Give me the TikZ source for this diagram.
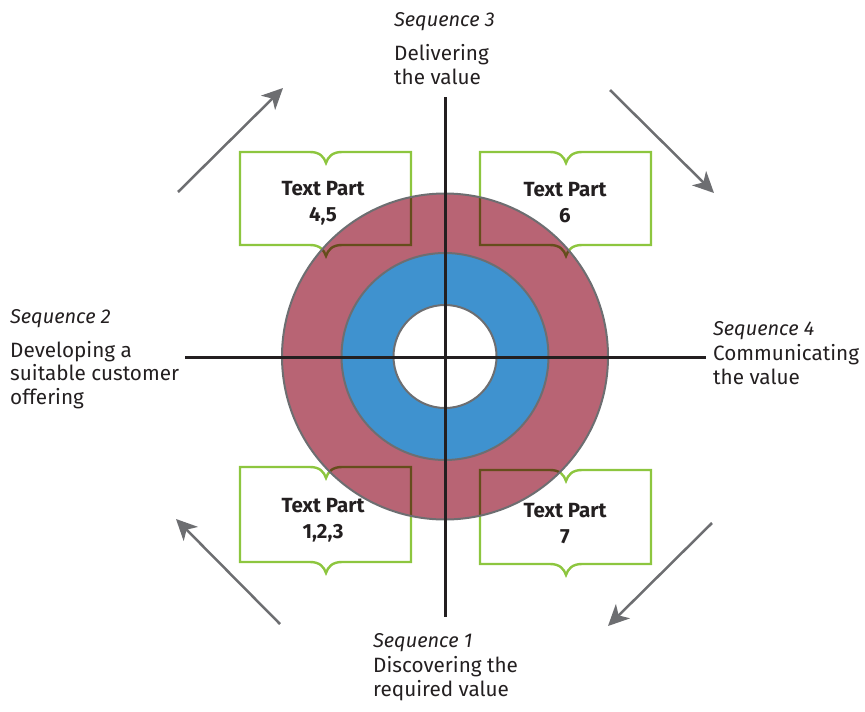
\documentclass[tikz,border=0pt]{standalone}
\usepackage{fontspec}
\setmainfont{Fira Sans}
\usetikzlibrary{arrows.meta}
\definecolor{ringred}{HTML}{B86474}
\definecolor{ringblue}{HTML}{3F92CF}
\definecolor{boxgreen}{HTML}{8DC63F}
\definecolor{ringgrey}{HTML}{6D6E71}
\definecolor{axisblack}{HTML}{231F20}
\newcommand\bookbox[3]{%
  \draw[bookline] (#1,#2) -- (#1+70,#2)
    .. controls (#1+80,#2) and (#1+84,#2+5) .. (#1+86,#2+11)
    .. controls (#1+88,#2+5) and (#1+92,#2) .. (#1+102,#2)
    -- (#1+171,#2) -- (#1+171,#3) -- (#1+102,#3)
    .. controls (#1+92,#3) and (#1+88,#3+5) .. (#1+86,#3+11)
    .. controls (#1+84,#3+5) and (#1+80,#3) .. (#1+70,#3)
    -- (#1,#3) -- cycle;}
\begin{document}
\begin{tikzpicture}[x=1pt,y=-1pt,
  bookline/.style={draw=boxgreen,line width=2.4pt,fill=white,line join=miter},
  boxtext/.style={font=\bfseries\fontsize{20.5}{26}\selectfont,align=center,text=axisblack,inner sep=0pt},
  seqhead/.style={font=\itshape\fontsize{20}{24}\selectfont,anchor=base west,inner sep=0pt,text=axisblack},
  seqtext/.style={font=\fontsize{20.7}{23.5}\selectfont,anchor=base west,inner sep=0pt,align=left,text=axisblack},
  ring/.style={circle,draw=ringgrey,line width=2pt,inner sep=0pt},
  axis/.style={draw=axisblack,line width=3pt},
  flow/.style={draw=ringgrey,line width=2.5pt,-{Stealth[length=21pt,width=20pt,inset=6pt]}}]
\useasboundingbox (0,0) rectangle (865,712);
% book boxes
\bookbox{240}{152}{245}
\bookbox{480}{152}{245}
\bookbox{240}{467}{562}
\bookbox{480}{470}{564}
% rings
\fill[ringred,even odd rule,blend mode=multiply] (445,356.5) circle (163) circle (103.5);
\fill[ringblue,even odd rule] (445,356.5) circle (103.5) circle (51.5);
\node[ring,minimum size=326pt] (outer) at (445,356.5) {};
\node[ring,minimum size=207pt] (middle) at (445,356.5) {};
\node[ring,minimum size=103pt] (inner) at (445,356.5) {};
% axes
\coordinate (vtop) at (445,97);
\coordinate (vbot) at (445,617);
\coordinate (hleft) at (185,357);
\coordinate (hright) at (706,357);
\draw[axis] (vtop) -- (vbot);
\draw[axis] (hleft) -- (hright);
% box texts
\node[boxtext] (tp45) at (323,203) {Text Part\\4,5};
\node[boxtext] (tp6) at (565,203) {Text Part\\6};
\node[boxtext] (tp123) at (323,520) {Text Part\\1,2,3};
\node[boxtext] (tp7) at (565,524) {Text Part\\7};
% sequence labels
\node[seqhead] (s3) at (394,26) {Sequence 3};
\node[seqtext] (d3) at (394,84) {Delivering\\the value};
\node[seqhead] (s2) at (10,323) {Sequence 2};
\node[seqtext] (d2) at (10,404) {Developing a\\suitable customer\\offering};
\node[seqhead] (s4) at (713,335) {Sequence 4};
\node[seqtext] (d4) at (713,384) {Communicating\\the value};
\node[seqhead] (s1) at (373,647) {Sequence 1};
\node[seqtext] (d1) at (373,696) {Discovering the\\required value};
% arrows
\coordinate (a1s) at (178,192); \coordinate (a1e) at (283,88);
\coordinate (a2s) at (610,90);  \coordinate (a2e) at (714,193);
\coordinate (a3s) at (712,523); \coordinate (a3e) at (608,626);
\coordinate (a4s) at (280,624); \coordinate (a4e) at (176,519);
\draw[flow] (a1s) -- (a1e);
\draw[flow] (a2s) -- (a2e);
\draw[flow] (a3s) -- (a3e);
\draw[flow] (a4s) -- (a4e);
\end{tikzpicture}
\end{document}
